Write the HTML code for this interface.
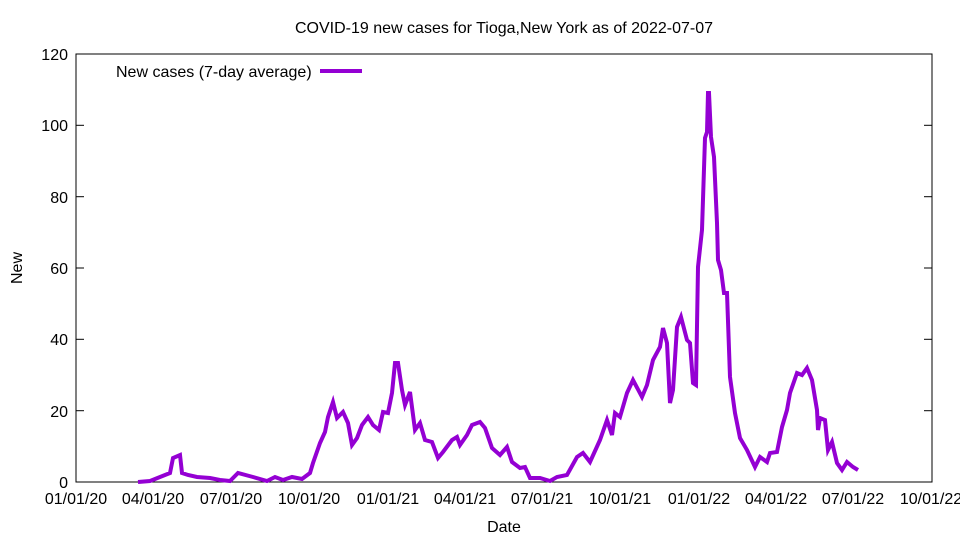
<!DOCTYPE html>
<html><head><style>body{margin:0;background:#fff}svg{display:block}text{font-family:"Liberation Sans",sans-serif;font-size:16px;fill:#000}</style></head>
<body>
<svg width="960" height="540" viewBox="0 0 960 540" xmlns="http://www.w3.org/2000/svg">
<rect x="76" y="54" width="856" height="428" fill="none" stroke="#000" stroke-width="1"/>
<g stroke="#000" stroke-width="1">
<line x1="76" y1="410.7" x2="84" y2="410.7"/><line x1="932" y1="410.7" x2="924" y2="410.7"/>
<line x1="76" y1="339.3" x2="84" y2="339.3"/><line x1="932" y1="339.3" x2="924" y2="339.3"/>
<line x1="76" y1="268" x2="84" y2="268"/><line x1="932" y1="268" x2="924" y2="268"/>
<line x1="76" y1="196.7" x2="84" y2="196.7"/><line x1="932" y1="196.7" x2="924" y2="196.7"/>
<line x1="76" y1="125.3" x2="84" y2="125.3"/><line x1="932" y1="125.3" x2="924" y2="125.3"/>
</g>
<g stroke="#000" stroke-width="1" id="xt"></g>
<g text-anchor="end">
<text x="68" y="488">0</text><text x="68" y="417">20</text><text x="68" y="345">40</text><text x="68" y="274">60</text><text x="68" y="203">80</text><text x="68" y="131">100</text><text x="68" y="60">120</text>
</g>
<g text-anchor="middle">
<text x="76" y="504">01/01/20</text><text x="153" y="504">04/01/20</text><text x="231" y="504">07/01/20</text><text x="309" y="504">10/01/20</text><text x="388" y="504">01/01/21</text><text x="465" y="504">04/01/21</text><text x="542" y="504">07/01/21</text><text x="620" y="504">10/01/21</text><text x="699" y="504">01/01/22</text><text x="776" y="504">04/01/22</text><text x="853" y="504">07/01/22</text><text x="931" y="504">10/01/22</text>
<text x="504" y="532">Date</text>
<text x="504" y="33">COVID-19 new cases for Tioga,New York as of 2022-07-07</text>
<text transform="translate(22,268) rotate(-90)">New</text>
</g>
<text x="116" y="77">New cases (7-day average)</text>
<line x1="320" y1="71" x2="362" y2="71" stroke="#9400d3" stroke-width="4"/>
<polyline fill="none" stroke="#9400d3" stroke-width="4" stroke-linejoin="miter" points="138,482 150,481 160,477 170,473 173,458 180,455 182,473 188,475 197,477 210,478 220,480 230,481 238,473 253,477 267,481 275,477 283,480 292,477 302,479 310,473 313,463 320,443 325,432 328,417 333,402 337,418 343,412 348,423 352,445 357,438 362,425 368,417 373,425 379,430 383,412 388,413 392,393 395,363 398,363 402,390 405,405 410,392 415,430 420,423 425,440 432,442 438,458 443,452 452,440 457,437 460,445 467,435 472,425 480,422 485,428 492,448 500,455 507,447 512,462 520,468 525,467 530,478 540,478 550,481 557,477 567,475 577,457 583,453 590,462 600,440 607,420 612,435 615,413 620,417 627,393 633,380 642,397 647,385 653,360 660,347 663,328 667,343 670,403 673,390 677,327 681,317 687,340 690,343 693,383 696,385 698,267 702,230 705,138 707,132 708,93 709,93 711,137 714,157 717,223 718,260 721,270 724,293 727,293 730,377 735,413 740,438 747,450 755,467 760,457 767,462 770,453 777,452 782,427 787,410 790,393 797,373 802,375 807,368 812,380 817,410 818,430 820,418 825,420 828,450 832,442 837,463 842,470 847,462 853,467 858,470"/>
<script>
var g=document.getElementById('xt'),s='';
var d0=Date.UTC(2020,0,1),sc=856/(Date.UTC(2022,9,1)-d0);
for(var y=2020;y<=2022;y++)for(var m=0;m<12;m++){var t=Date.UTC(y,m,1);if(t>Date.UTC(2022,9,1))break;var x=76+(t-d0)*sc;var L=(m%3==0)?8:4;
s+='<line x1="'+x+'" y1="482" x2="'+x+'" y2="'+(482-L)+'"/><line x1="'+x+'" y1="54" x2="'+x+'" y2="'+(54+L)+'"/>';}
g.innerHTML=s;
</script>
</svg>
</body></html>
